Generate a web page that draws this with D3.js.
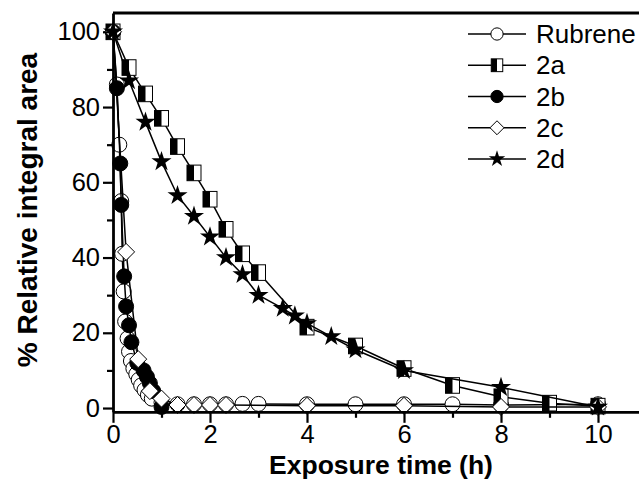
<!DOCTYPE html>
<html><head><meta charset="utf-8">
<script src="https://cdn.jsdelivr.net/npm/d3@7"></script>
<style>body{margin:0;background:#fff}svg{display:block}</style>
</head><body>
<svg id="c" width="639" height="495"></svg>
<script>
// ---- data ----
const seriesNames = ["Rubrene", "2a", "2b", "2c", "2d"];

const rubreneX = [0, 0.08, 0.13, 0.17, 0.19, 0.22, 0.25, 0.3, 0.33, 0.37, 0.42, 0.48, 0.53, 0.58, 0.65, 0.72, 0.8, 1.0, 1.33, 1.67, 2.0, 2.33, 2.67, 3, 4, 5, 6, 7, 8, 10];
const rubreneY = [100, 86, 70, 55, 41, 31, 23, 18.5, 15, 12.5, 10.5, 9, 7.5, 6, 4.8, 3.5, 2.5, 1.5, 1, 1, 1, 1, 1.1, 1.1, 1, 1, 1, 1, 0.8, 1];

const s2aX = [0, 0.33, 0.67, 1, 1.33, 1.67, 2, 2.33, 2.67, 3, 4, 5, 6, 7, 8, 9, 10];
const s2aY = [100, 90.5, 83.5, 77, 69.5, 62.5, 55.5, 47.5, 41, 36, 21.5, 16.5, 10.5, 6, 3, 1.3, 0.5];

const s2bX = [0, 0.08, 0.15, 0.17, 0.23, 0.27, 0.33, 0.38, 0.5, 0.63, 0.7, 0.76, 0.83, 1.0];
const s2bY = [100, 85, 65, 54, 35, 27, 22, 17.5, 12, 10, 8.3, 6.6, 4.5, 0.3];

const s2cX = [0, 0.27, 0.52, 0.76, 1.0, 1.33, 1.67, 2.0, 2.33, 4, 6, 8, 10];
const s2cY = [100, 41.5, 13, 4.5, 2.5, 0.8, 0.8, 0.8, 0.8, 0.6, 0.6, 0.3, 0.3];

const s2dX = [0, 0.33, 0.67, 1, 1.33, 1.67, 2, 2.33, 2.67, 3, 3.5, 3.75, 4, 4.5, 5, 6, 8, 10];
const s2dY = [100, 87, 76, 65.5, 56.5, 51, 45.5, 40, 35.5, 30, 26.5, 24.5, 22.5, 19, 15.5, 10, 5.5, 0.3];

const xMajorTicks = [0, 2, 4, 6, 8, 10];
const xMinorTicks = [1, 3, 5, 7, 9];
const yMajorTicks = [0, 20, 40, 60, 80, 100];
const yMinorTicks = [10, 30, 50, 70, 90];

const xTitle = "Exposure time (h)";
const yTitle = "% Relative integral area";

// ---- drawing ----
const svg = d3.select("#c");
const x = d3.scaleLinear().domain([0, 11]).range([113, 646.5]);
const y = d3.scaleLinear().domain([-1, 105]).range([411.8, 13]);
const FONT = "'Liberation Sans', Arial, sans-serif";

const seriesData = [
  {name: seriesNames[0], xs: rubreneX, ys: rubreneY, sym: "circleOpen"},
  {name: seriesNames[1], xs: s2aX, ys: s2aY, sym: "halfSquare"},
  {name: seriesNames[2], xs: s2bX, ys: s2bY, sym: "circleFilled"},
  {name: seriesNames[3], xs: s2cX, ys: s2cY, sym: "diamond"},
  {name: seriesNames[4], xs: s2dX, ys: s2dY, sym: "star"}
];

function drawSymbol(g, sym, cx, cy, s) {
  if (sym === "circleOpen" || sym === "circleFilled") {
    g.append("circle").attr("cx", cx).attr("cy", cy).attr("r", 7.5 * s)
      .attr("fill", sym === "circleFilled" ? "#000" : "#fff")
      .attr("stroke", "#000").attr("stroke-width", 1);
  } else if (sym === "halfSquare") {
    const w = 7 * s, h = 7.8 * s;
    g.append("rect").attr("x", cx - w).attr("y", cy - h).attr("width", 2 * w).attr("height", 2 * h)
      .attr("fill", "#fff").attr("stroke", "#000").attr("stroke-width", 1);
    g.append("rect").attr("x", cx - w).attr("y", cy - h).attr("width", w).attr("height", 2 * h)
      .attr("fill", "#000");
  } else if (sym === "diamond") {
    const h = 8.5 * s;
    g.append("path").attr("d", `M${cx},${cy - h}L${cx + h},${cy}L${cx},${cy + h}L${cx - h},${cy}Z`)
      .attr("fill", "#fff").attr("stroke", "#000").attr("stroke-width", 1);
  } else if (sym === "star") {
    g.append("path").attr("d", d3.symbol(d3.symbolStar, 125 * s * s)())
      .attr("transform", `translate(${cx},${cy})`).attr("fill", "#000");
  }
}

const plot = svg.append("g");
const line = d3.line().x(d => x(d[0])).y(d => y(d[1]));
seriesData.forEach(sd => {
  const pts = sd.xs.map((v, i) => [v, sd.ys[i]]);
  const g = plot.append("g");
  g.append("path").attr("d", line(pts)).attr("fill", "none")
    .attr("stroke", "#000").attr("stroke-width", 1.5);
  pts.forEach(p => drawSymbol(g, sd.sym, x(p[0]), y(p[1]), 1));
});

// frame (top line; right side lies outside the canvas)
svg.append("path")
  .attr("d", `M${x(0)},${y(105)}L${x(11)},${y(105)}`)
  .attr("stroke", "#000").attr("stroke-width", 3).attr("fill", "none");

// axes
function styleAxis(g) {
  g.selectAll(".domain").attr("stroke-width", 2.8);
  g.selectAll(".tick line").attr("stroke-width", 2.2);
  g.selectAll("text").attr("font-family", FONT).attr("font-size", 25.5).attr("fill", "#000");
}
const xAxis = svg.append("g").attr("transform", `translate(0,${y(-1)})`)
  .call(d3.axisBottom(x).tickValues(xMajorTicks).tickSize(11).tickSizeOuter(0).tickPadding(2).tickFormat(d3.format("d")));
styleAxis(xAxis);
const xAxisMinor = svg.append("g").attr("transform", `translate(0,${y(-1)})`)
  .call(d3.axisBottom(x).tickValues(xMinorTicks).tickSize(6).tickSizeOuter(0).tickFormat(""));
styleAxis(xAxisMinor);
xAxisMinor.select(".domain").remove();

const yAxis = svg.append("g").attr("transform", `translate(${x(0)},0)`)
  .call(d3.axisLeft(y).tickValues(yMajorTicks).tickSize(10).tickSizeOuter(0).tickPadding(3).tickFormat(d3.format("d")));
styleAxis(yAxis);
const yAxisMinor = svg.append("g").attr("transform", `translate(${x(0)},0)`)
  .call(d3.axisLeft(y).tickValues(yMinorTicks).tickSize(6).tickSizeOuter(0).tickFormat(""));
styleAxis(yAxisMinor);
yAxisMinor.select(".domain").remove();

// titles
svg.append("text").attr("x", 381).attr("y", 474).attr("text-anchor", "middle")
  .attr("font-family", FONT).attr("font-weight", "bold").attr("font-size", 26.5).text(xTitle);
svg.append("text").attr("transform", "translate(37,210) rotate(-90)").attr("text-anchor", "middle")
  .attr("font-family", FONT).attr("font-weight", "bold").attr("font-size", 28).text(yTitle);

// legend
const legY = d3.scalePoint().domain(seriesNames).range([34, 159]);
const leg = svg.append("g");
seriesData.forEach(sd => {
  const ly = legY(sd.name);
  leg.append("line").attr("x1", 468).attr("x2", 526).attr("y1", ly).attr("y2", ly)
    .attr("stroke", "#000").attr("stroke-width", 1.5);
  drawSymbol(leg, sd.sym, 497, ly, 0.82);
  leg.append("text").attr("x", 536).attr("y", ly + 9).attr("font-family", FONT)
    .attr("font-size", 26).text(sd.name);
});
</script>
</body></html>
